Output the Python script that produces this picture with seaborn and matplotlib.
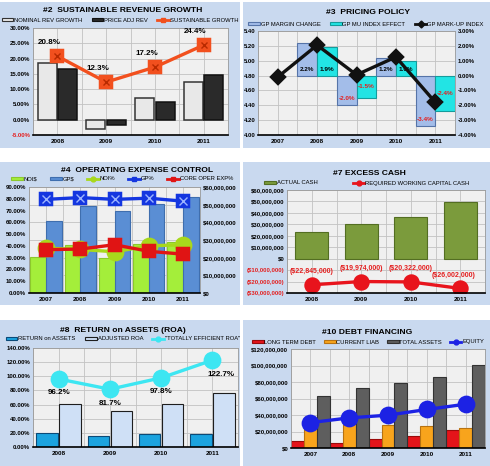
import numpy as np
import pandas as pd
import matplotlib.pyplot as plt
from matplotlib.patches import Rectangle, Patch
from matplotlib.lines import Line2D
import seaborn as sns

plt.rcParams['font.family'] = ['Liberation Sans', 'DejaVu Sans']

# --- #2 sustainable revenue growth
years_08 = ['2008', '2009', '2010', '2011']
nominal_rev_growth = [18.5, -3.2, 7.0, 12.5]
price_adj_rev = [16.5, -1.8, 5.8, 14.7]
sustainable_growth = [20.8, 12.3, 17.2, 24.4]

# --- #3 pricing policy
years_07 = ['2007', '2008', '2009', '2010', '2011']
gp_margin_change = [np.nan, 2.2, -2.0, 1.2, -3.4]
gp_mu_index_effect = [np.nan, 1.9, -1.5, 1.0, -2.4]
gp_markup_index = [4.78, 5.21, 4.81, 5.05, 4.44]

# --- #4 operating expense control
noi_dollars = [20.2e6, 27.0e6, 19.8e6, 28.0e6, 29.0e6]
gp_dollars = [40.5e6, 49.0e6, 46.5e6, 50.3e6, 54.6e6]
noi_pct = [38.0, 37.0, 35.0, 40.0, 41.0]
gp_pct = [79.5, 81.0, 79.5, 80.5, 78.0]
core_oper_exp_pct = [36.8, 37.3, 41.0, 35.4, 33.0]

# --- #7 excess cash
actual_cash = [23.4e6, 30.7e6, 36.5e6, 49.7e6]
required_wc_cash = [-22845000, -19974000, -20322000, -26002000]

# --- #8 return on assets
return_on_assets = [20.0, 15.7, 18.0, 18.0]
adjusted_roa = [60.3, 50.8, 60.8, 77.0]
totally_efficient_roa = [96.2, 81.7, 97.8, 122.7]

# --- #10 debt financing
long_term_debt = [8.1e6, 6.1e6, 11.4e6, 14.2e6, 21.5e6]
current_liab = [24.3e6, 29.6e6, 27.6e6, 26.4e6, 24.7e6]
total_assets = [63.3e6, 73.0e6, 78.3e6, 86.4e6, 100.6e6]
equity = [30.8e6, 36.5e6, 39.8e6, 46.7e6, 53.1e6]

W, H = 490, 466
RED = '#e42020'
TICK_FS = 4.3
fig = plt.figure(figsize=(W / 100, H / 100), dpi=100)
fig.patch.set_facecolor('white')


def frac(l, t, r, b):
    return [l / W, 1 - b / H, (r - l) / W, (b - t) / H]


for l, t, r, b in [(0, 2, 240, 148), (243, 2, 490, 148), (0, 162, 240, 305),
                   (243, 162, 490, 305), (0, 320, 240, 466), (243, 320, 490, 466)]:
    fig.add_artist(Rectangle((l / W, 1 - b / H), (r - l) / W, (b - t) / H,
                             transform=fig.transFigure, facecolor='#c9d9ef',
                             edgecolor='none', zorder=-1))


def pct(v):
    return f'{v:.2f}%'


def dollars(v):
    return f'${v:,.0f}' if v >= 0 else f'(${-v:,.0f})'


def bars(ax, years, series, colors, edges, width, gap=0.0, lw=0.8):
    df = pd.concat([pd.DataFrame({'year': years, 'value': vals, 'series': name})
                    for name, vals in series.items()]).dropna()
    sns.barplot(data=df, x='year', y='value', hue='series', order=years,
                hue_order=list(series), palette=colors, width=width, gap=gap,
                saturation=1, legend=False, ax=ax, linewidth=lw)
    for cont, ec in zip(ax.containers, edges):
        for p in cont:
            p.set_edgecolor(ec)


def line(ax, years, vals, color, marker, ms, cross=None):
    sns.pointplot(x=years, y=vals, order=years, color=color, marker=marker,
                  markersize=ms, linewidth=2.4, markeredgecolor=color, ax=ax)
    if cross:
        sns.pointplot(x=years, y=vals, order=years, color=cross, marker='x',
                      markersize=ms * 0.6, markeredgewidth=1.0, markeredgecolor=cross,
                      linestyle='none', ax=ax)


def set_yticks(ax, ticks, fmt):
    ax.set_yticks(ticks)
    ax.set_yticklabels([fmt(t) for t in ticks], fontsize=TICK_FS, fontweight='bold')
    for lab, t in zip(ax.get_yticklabels(), ticks):
        if t < 0:
            lab.set_color(RED)


def style(ax, years, ticks, fmt):
    n = len(years)
    ax.set_facecolor('#f0f0f0')
    ax.set_xlim(-0.5, n - 0.5)
    ax.set_ylim(ticks[0], ticks[-1])
    ax.set_xticks(range(n))
    ax.set_xticks(np.arange(-0.5, n, 1), minor=True)
    ax.set_xticklabels(years, fontsize=4.6, fontweight='bold')
    set_yticks(ax, ticks, fmt)
    ax.grid(which='both', color='#c2c2c2', lw=0.6)
    ax.set_axisbelow(True)
    ax.tick_params(which='both', length=0, pad=2)
    ax.tick_params(axis='x', pad=3)
    ax.set_xlabel('')
    ax.set_ylabel('')
    for s in ax.spines.values():
        s.set_color('#9a9a9a')
        s.set_linewidth(0.6)
    ax.spines['bottom'].set_color('black')
    ax.spines['bottom'].set_linewidth(1.2)


def twin_style(parent, ax, years, ticks, fmt):
    parent.yaxis.tick_right()
    ax.set_xlim(-0.5, len(years) - 0.5)
    ax.set_ylim(ticks[0], ticks[-1])
    ax.yaxis.tick_left()
    set_yticks(ax, ticks, fmt)
    ax.tick_params(length=0, pad=2)
    ax.set_xlabel('')
    ax.set_ylabel('')
    for s in ax.spines.values():
        s.set_visible(False)


def title(x, y, text):
    fig.text(x / W, 1 - y / H, text, ha='center', va='center', fontsize=6.1,
             fontweight='bold')


def legend(x, y, handles, labels, spacing=1.5):
    fig.legend(handles, labels, loc='center', bbox_to_anchor=(x / W, 1 - y / H),
               ncol=len(handles), frameon=False, fontsize=4.2, handlelength=2.0,
               handleheight=0.6, handletextpad=0.15, columnspacing=spacing,
               borderpad=0, borderaxespad=0)


def box(fc, ec):
    return Patch(facecolor=fc, edgecolor=ec, linewidth=0.8)


def mline(c, m):
    return Line2D([], [], color=c, lw=2, marker=m, markersize=3.5)


def label(ax, x, y, text, dx, dy, color='black', fs=5.8):
    ax.annotate(text, (x, y), xytext=(dx, dy), textcoords='offset points',
                ha='center', va='center', fontsize=fs, fontweight='bold',
                color=color, zorder=10)


# ---------------- #2 SUSTAINABLE REVENUE GROWTH
ax = fig.add_axes(frac(33, 28, 228, 135))
bars(ax, years_08, {'NOMINAL REV GROWTH': nominal_rev_growth, 'PRICE ADJ REV': price_adj_rev},
     ['#e8e8e8', '#2a2a2a'], ['#333333', '#111111'], width=0.84, gap=0.07, lw=1.1)
line(ax, years_08, sustainable_growth, '#f2501e', 's', 8, cross='#b82a00')
style(ax, years_08, np.arange(-5, 31, 5), pct)
for i, v in enumerate(sustainable_growth):
    label(ax, i, v, f'{v:.1f}%', -6, 10)
title(123, 10, '#2  SUSTAINABLE REVENUE GROWTH')
legend(120, 20, [box('#e8e8e8', '#333333'), box('#2a2a2a', '#111111'), mline('#f2501e', 's')],
       ['NOMINAL REV GROWTH', 'PRICE ADJ REV', 'SUSTAINABLE GROWTH'], spacing=1.6)

# ---------------- #3 PRICING POLICY
ax = fig.add_axes(frac(258, 31, 455, 135))
bars(ax, years_07, {'GP MARGIN CHANGE': gp_margin_change, 'GP MU INDEX EFFECT': gp_mu_index_effect},
     ['#a3bde9', '#22e4e4'], ['#5674a8', '#149c9c'], width=1.0)
style(ax, years_07, np.arange(-4, 3.1, 1), pct)
for i, (a, b) in enumerate(zip(gp_margin_change, gp_mu_index_effect)):
    if np.isnan(a):
        continue
    label(ax, i - 0.25, 0.4 if a > 0 else a + 0.45, f'{a:.1f}%', 0, 0,
          'black' if a > 0 else RED, 4.6)
    label(ax, i + 0.25, 0.4 if b > 0 else b * 0.5, f'{b:.1f}%', 0, 0,
          'black' if b > 0 else RED, 4.6)
axb = ax.twinx()
line(axb, years_07, gp_markup_index, '#111111', 'D', 7)
twin_style(ax, axb, years_07, np.round(np.arange(4.0, 5.41, 0.2), 2), lambda v: f'{v:.2f}')
title(368, 13, '#3  PRICING POLICY')
legend(366, 24, [box('#a3bde9', '#5674a8'), box('#22e4e4', '#149c9c'), mline('#111111', 'D')],
       ['GP MARGIN CHANGE', 'GP MU INDEX EFFECT', 'GP MARK-UP INDEX'], spacing=1.6)

# ---------------- #4 OPERATING EXPENSE CONTROL
ax = fig.add_axes(frac(29, 187, 200, 293))
bars(ax, years_07, {'NOI$': noi_dollars, 'GP$': gp_dollars},
     ['#a4ee3a', '#5a8ed4'], ['#8cc82c', '#3f6eae'], width=0.92)
style(ax, years_07, np.arange(0, 60e6 + 1, 10e6), dollars)
axb = ax.twinx()
line(axb, years_07, noi_pct, '#a8d81c', 'o', 11)
line(axb, years_07, gp_pct, '#1436e0', 's', 9, cross='#9cb4ff')
line(axb, years_07, core_oper_exp_pct, '#e01414', 's', 8)
twin_style(ax, axb, years_07, np.arange(0, 91, 10), pct)
title(137, 170, '#4  OPERATING EXPENSE CONTROL')
legend(122, 179, [box('#a4ee3a', '#8cc82c'), box('#5a8ed4', '#3f6eae'), mline('#a8d81c', 'o'),
                  mline('#1436e0', 's'), mline('#e01414', 's')],
       ['NOI$', 'GP$', 'NOI%', 'GP%', 'CORE OPER EXP%'], spacing=2.2)

# ---------------- #7 EXCESS CASH
ax = fig.add_axes(frac(287, 190, 485, 293))
sns.barplot(x=years_08, y=actual_cash, order=years_08, color='#7b9b3c', saturation=1,
            width=0.67, edgecolor='#536e22', linewidth=0.8, ax=ax)
line(ax, years_08, required_wc_cash, '#e8141c', 'o', 10)
style(ax, years_08, np.arange(-30e6, 60e6 + 1, 10e6), dollars)
for i, v in enumerate(required_wc_cash):
    label(ax, i, v, dollars(v), -5 if i == 3 else 0, 9.5, RED, 5)
title(369, 173, '#7 EXCESS CASH')
legend(367, 183, [box('#7b9b3c', '#536e22'), mline('#e8141c', 'o')],
       ['ACTUAL CASH', 'REQUIRED WORKING CAPITAL CASH'], spacing=6)

# ---------------- #8 RETURN on ASSETS (ROA)
ax = fig.add_axes(frac(33, 348, 238, 447))
bars(ax, years_08, {'RETURN on ASSETS': return_on_assets, 'ADJUSTED ROA': adjusted_roa},
     ['#1ba3df', '#cfe0f6'], ['#0b4a78', '#1e1e1e'], width=0.9, gap=0.06)
line(ax, years_08, totally_efficient_roa, '#3de6f2', 'o', 11)
style(ax, years_08, np.arange(0, 141, 20), pct)
for i, v in enumerate(totally_efficient_roa):
    label(ax, i, v, f'{v:.1f}%', 6 if i == 3 else 0, -10)
title(123, 330, '#8  RETURN on ASSETS (ROA)')
legend(123, 339, [box('#1ba3df', '#0b4a78'), box('#cfe0f6', '#1e1e1e'), mline('#3de6f2', 'o')],
       ['RETURN on ASSETS', 'ADJUSTED ROA', '"TOTALLY EFFICIENT ROA"'], spacing=1.6)

# ---------------- #10 DEBT FINANCING
ax = fig.add_axes(frac(291, 349, 485, 448))
bars(ax, years_07, {'LONG TERM DEBT': long_term_debt, 'CURRENT LIAB': current_liab,
                    'TOTAL ASSETS': total_assets},
     ['#e4141a', '#f8a41c', '#5e5e5e'], ['#9a0a0a', '#b87210', '#333333'], width=1.0)
line(ax, years_07, equity, '#1c22e4', 'o', 11)
style(ax, years_07, np.arange(0, 120e6 + 1, 20e6), dollars)
title(367, 333, '#10 DEBT FINANCING')
legend(368, 342, [box('#e4141a', '#9a0a0a'), box('#f8a41c', '#b87210'), box('#5e5e5e', '#333333'),
                  mline('#1c22e4', 'o')],
       ['LONG TERM DEBT', 'CURRENT LIAB', 'TOTAL ASSETS', 'EQUITY'], spacing=1.3)

fig.savefig('out.png', dpi=100)
